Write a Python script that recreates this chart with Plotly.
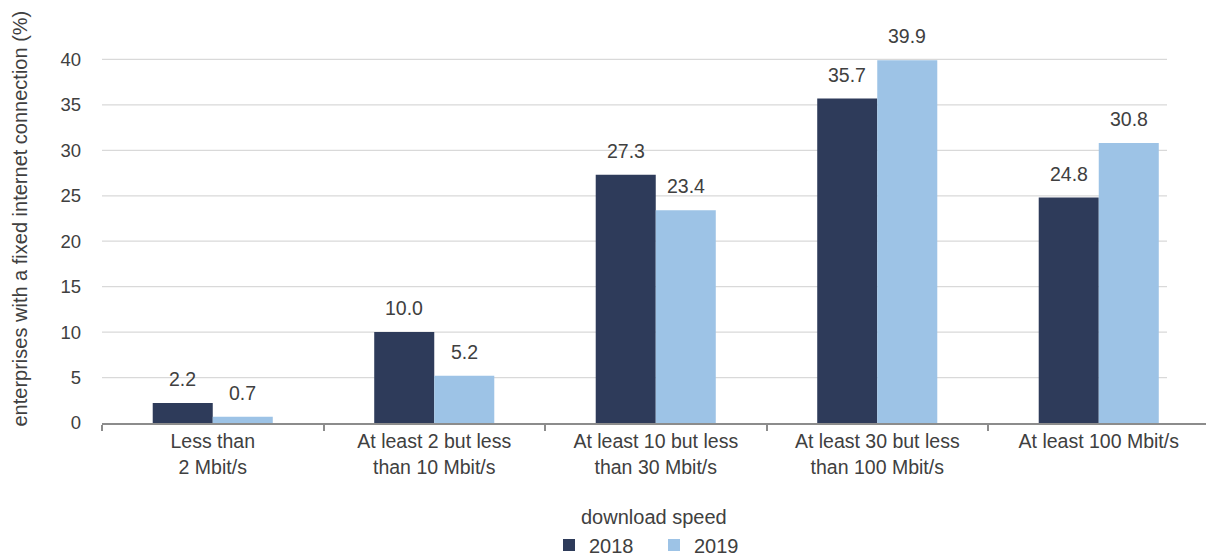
import plotly.graph_objects as go

# Share of enterprises by fixed broadband download speed
categories = [
    "Less than<br>2 Mbit/s",
    "At least 2 but less<br>than 10 Mbit/s",
    "At least 10 but less<br>than 30 Mbit/s",
    "At least 30 but less<br>than 100 Mbit/s",
    "At least 100 Mbit/s",
]
values_2018 = [2.2, 10.0, 27.3, 35.7, 24.8]
values_2019 = [0.7, 5.2, 23.4, 39.9, 30.8]
series_names = ["2018", "2019"]
y_ticks = [0, 5, 10, 15, 20, 25, 30, 35, 40]

COL_2018 = "#2E3B5A"
COL_2019 = "#9DC3E6"
TEXT = "#404040"
FONT = "Liberation Sans, Arial, sans-serif"

W, H = 1206, 557
L, R, T, B = 102, 0, 14, 134
plot_w = W - L - R
plot_h = H - T - B
px_per_cat = 221.5
x_lo = -0.5
x_hi = x_lo + plot_w / px_per_cat
y_max = 45

bargap = 0.458
bar_w = (1 - bargap) / 2

xs = list(range(len(categories)))


def paper_y(px):
    """Convert a pixel row of the page to a paper y coordinate."""
    return (T + plot_h - px) / plot_h


fig = go.Figure()
for name, vals, col in [(series_names[0], values_2018, COL_2018),
                        (series_names[1], values_2019, COL_2019)]:
    fig.add_trace(go.Bar(
        x=xs, y=vals, name=name, marker=dict(color=col, line=dict(width=0)),
        hoverinfo="skip",
    ))

annotations = []

# value labels above each bar
for k, vals in enumerate([values_2018, values_2019]):
    off = (k - 0.5) * bar_w
    for i, v in enumerate(vals):
        annotations.append(dict(
            x=i + off, y=v, xref="x", yref="y", text=f"{v:.1f}",
            showarrow=False, yanchor="bottom", yshift=11,
            font=dict(family=FONT, size=19.5, color=TEXT),
        ))

# axis titles
annotations.append(dict(
    x=0.5, y=paper_y(517), xref="paper", yref="paper",
    text="download speed", showarrow=False, xanchor="center", yanchor="middle",
    font=dict(family=FONT, size=20, color=TEXT),
))
annotations.append(dict(
    x=(19 - L) / plot_w, y=0.5, xref="paper", yref="paper",
    text="enterprises with a fixed internet connection (%)", showarrow=False,
    textangle=-90, xanchor="center", yanchor="middle",
    font=dict(family=FONT, size=20, color=TEXT),
))

# horizontal gridlines (stop short of the right edge)
shapes = []
for v in y_ticks[1:]:
    shapes.append(dict(
        type="line", xref="paper", yref="y", x0=0, x1=(1167 - L) / plot_w,
        y0=v, y1=v, line=dict(color="#D9D9D9", width=1.3), layer="below",
    ))

fig.update_layout(
    width=W, height=H,
    margin=dict(l=L, r=R, t=T, b=B, pad=0, autoexpand=False),
    paper_bgcolor="white", plot_bgcolor="white",
    barmode="group", bargap=bargap, bargroupgap=0,
    font=dict(family=FONT, size=18, color=TEXT),
    showlegend=True,
    legend=dict(
        orientation="h", x=0.5, xanchor="center",
        y=paper_y(545), yanchor="middle",
        font=dict(family=FONT, size=20, color=TEXT),
        itemwidth=30, entrywidth=60, entrywidthmode="pixels",
        bgcolor="rgba(0,0,0,0)", borderwidth=0,
    ),
    annotations=annotations,
    shapes=shapes,
)

fig.update_xaxes(
    range=[x_lo, x_hi], tickvals=xs, ticktext=categories,
    ticks="", ticklabelstandoff=0, showgrid=False, zeroline=False,
    showline=True, linecolor="#8C8C8C", linewidth=1.5,
    tickfont=dict(family=FONT, size=19.5, color=TEXT),
    minor=dict(tick0=0.5, dtick=1, ticks="outside", ticklen=6,
               tickcolor="#8C8C8C", tickwidth=1.5, showgrid=False),
    fixedrange=True,
)
fig.update_yaxes(
    range=[0, y_max], tickvals=y_ticks, ticktext=[str(t) for t in y_ticks],
    showgrid=False, zeroline=False, showline=False, ticks="",
    ticklabelstandoff=20,
    tickfont=dict(family=FONT, size=18.5, color=TEXT),
    fixedrange=True,
)

fig.write_html("out.html")
